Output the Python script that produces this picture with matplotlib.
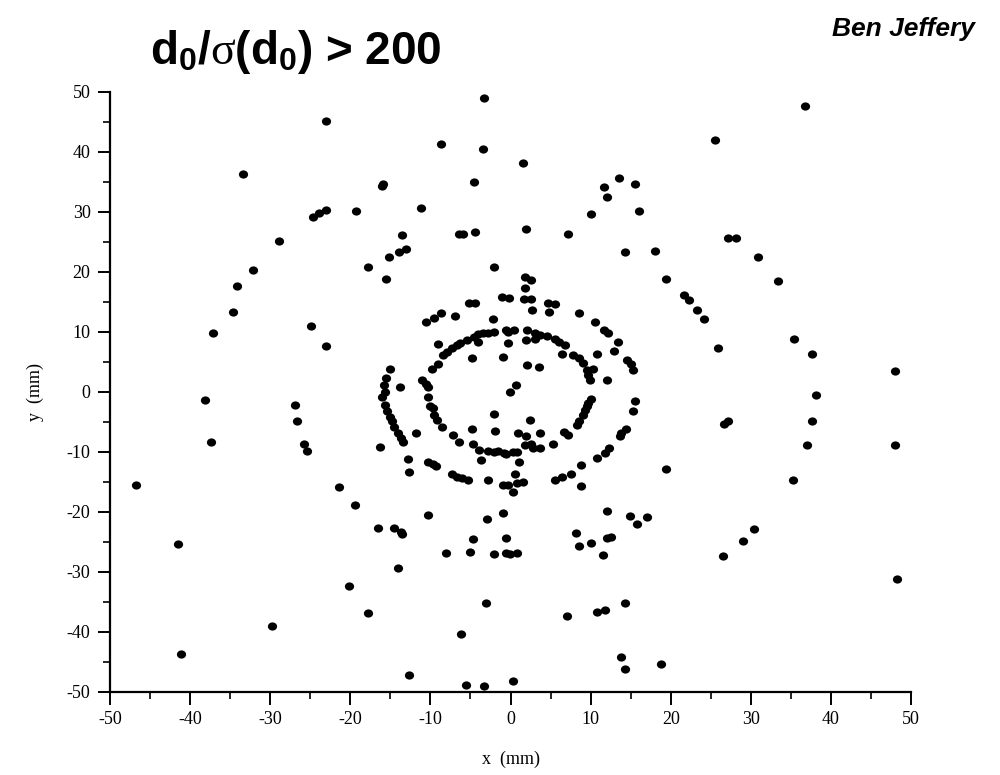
import matplotlib
matplotlib.use("Agg")
import matplotlib.pyplot as plt
from matplotlib.path import Path
from matplotlib.transforms import Affine2D
from matplotlib.ticker import MultipleLocator

x_mm = [
    -23.0, -33.4, -24.6, -23.9, -23.0, -19.3, -28.9, -32.2, -34.1, -17.8,
    -3.3, -8.7, -3.4, 1.6, -16.1, -15.9, -4.5, 13.5, 11.7, 15.5, 12.0, 16.1, 10.0,
    -11.2, -13.6, -6.4, -5.9, -4.4, 1.9, 7.2, -13.1, -13.9, -15.2, -15.5, -2.0,
    14.3, 1.8, 2.5, 1.8,
    36.8, 25.5, 27.1, 28.2, 18.1, 30.9, 19.4, 33.4,
    -34.7, -37.1, -24.9, -23.0, -38.1, -26.9, -26.7, -37.4, -25.8, -25.4, -46.8, -21.4,
    21.6, 22.3, 23.3, 24.1, 25.9, 35.4, 37.7, 48.0, 38.1, 37.6, 26.6, 27.2, 37.0,
    48.0, 19.4, 35.3,
    -19.4, -41.5, -20.1, -17.8, -29.8, -41.1,
    -10.3, -16.5, -14.6, -13.7, -13.5, -14.1, -8.0, -4.7, -5.1, -2.9, -0.9, -0.6,
    -2.1, -0.6, -0.1, 0.8, -3.1, -6.2, -12.7, -5.6, -3.3, 0.3, 8.8, 12.0, 14.9,
    15.8, 17.0, 8.2, 8.5, 10.0, 12.0, 12.5, 11.6, 7.0, 10.8, 11.8, 14.3, 13.8, 14.3,
    26.5, 29.0, 30.4, 48.3, 18.8,
    -1.1, -0.2, 1.7, 2.5, -5.2, -4.4, 4.7, 5.6, 2.7, 4.8, 8.6, -10.5, -9.6, -8.7,
    -6.9, -2.2, 10.5, 11.7, 12.2, 13.4, 12.9, 14.5, 15.0, 15.3, 15.5, 15.3, 14.4,
    13.8, 13.7, 12.3, 11.8, 10.8, 8.8, 7.6, 6.4, 5.6, -2.8, -0.9, -0.3, 0.8, 1.6,
    0.6, 0.3, -7.3, -6.7, -6.1, -5.3, -10.3, -9.7, -9.3, -12.7, -12.8, -16.3,
    -15.1, -15.6, -15.8, -15.7, -16.1, -15.7, -15.4, -15.1, -14.8, -14.5, -14.0,
    -13.7, -13.4, -13.8, -11.8,
    -11.0, -10.5, -10.3, -10.3, -10.1, -9.7, -9.6, -9.2, -8.6, -7.2, -6.4, -4.8,
    -4.7, -3.9, -2.8, -2.1, -1.5, -0.8, -0.5, 0.3, 0.8, -3.7, 1.1, 1.8, 2.6, 2.8,
    3.7, -1.9, 0.9, 1.9, 3.7, -2.0, 2.4, 5.3, 6.7, 7.2, 8.3, 8.6, 9.0, 9.3, 9.5,
    9.7, 10.1, 12.1, 9.9, 9.7, 9.5, 10.3, 9.0, 8.5, 7.8, 10.8, 6.4, 6.8, 6.1, 5.6,
    4.5, 3.7, 3.1, 3.1, 1.9, 2.0, -0.3, 0.4, -0.6, -0.3, -2.1, -2.8, -3.4, -4.0,
    -4.6, -5.4, -6.3, -6.7, -7.3, -7.9, -8.4, -4.0, -9.0, -9.0, -9.8, -4.8, -0.9,
    2.1, 3.5, 0.7, -0.1,
]
y_mm = [
    45.1, 36.3, 29.2, 29.8, 30.4, 30.2, 25.2, 20.4, 17.6, 20.8,
    49.0, 41.4, 40.5, 38.1, 34.4, 34.7, 35.0, 35.7, 34.1, 34.7, 32.5, 30.1, 29.6,
    30.6, 26.1, 26.4, 26.4, 26.7, 27.2, 26.4, 23.8, 23.3, 22.5, 18.8, 20.9,
    23.3, 19.1, 18.6, 17.3,
    47.6, 42.0, 25.7, 25.7, 23.5, 22.5, 18.8, 18.5,
    13.3, 9.8, 11.0, 7.7, -1.3, -2.1, -4.9, -8.3, -8.6, -9.9, -15.5, -15.9,
    16.2, 15.3, 13.6, 12.1, 7.4, 8.9, 6.3, 3.5, -0.5, -4.8, -5.3, -4.8, -8.9,
    -8.9, -12.9, -14.6,
    -18.9, -25.4, -32.3, -36.9, -39.0, -43.7,
    -20.5, -22.6, -22.7, -23.3, -23.7, -29.4, -26.8, -24.5, -26.6, -21.2, -20.1, -24.4,
    -27.0, -26.9, -27.0, -26.9, -35.2, -40.3, -47.1, -48.8, -49.0, -48.2, -15.7, -19.8, -20.6,
    -22.0, -20.9, -23.5, -25.6, -25.2, -24.3, -24.1, -27.2, -37.4, -36.6, -36.3, -35.1, -44.2, -46.2,
    -27.4, -24.8, -22.8, -31.1, -45.3,
    15.8, 15.6, 15.5, 15.5, 14.8, 14.9, 14.9, 14.6, 13.7, 13.4, 13.2, 11.6, 12.3, 13.1,
    12.7, 12.2, 11.6, 10.3, 9.9, 8.3, 6.9, 5.4, 4.7, 3.6, -1.5, -3.1, -6.1,
    -6.9, -7.4, -9.4, -10.2, -11.0, -12.1, -13.6, -14.2, -14.6, -14.7, -15.5, -15.5, -15.2, -15.0,
    -13.7, -16.6, -13.7, -14.1, -14.4, -14.7, -11.6, -12.0, -12.4, -13.3, -11.2, -9.1,
    3.8, 2.3, 1.2, 0.0, -0.9, -2.1, -3.1, -4.1, -4.9, -5.8, -6.9,
    -7.7, -8.4, 0.9, -6.8,
    2.0, 1.3, 0.9, -0.9, -2.3, -2.7, -3.8, -4.6, -5.8, -7.2, -8.3, -6.1,
    -8.7, -9.6, -9.8, -10.0, -9.8, -10.1, -10.3, -10.0, -10.0, -11.3, -11.6, -8.8, -8.6, -9.4,
    -9.4, -6.5, -6.9, -7.3, -6.9, -3.6, -4.6, -8.6, -6.6, -7.2, -5.5, -4.8, -3.8, -3.0, -2.3,
    -1.9, -1.1, 2.0, 2.0, 2.8, 3.6, 3.8, 4.8, 5.6, 6.2, 6.3, 6.3, 7.8, 8.4, 8.9,
    9.3, 9.5, 9.9, 8.9, 8.7, 10.3, 10.0, 10.3, 10.4, 8.1, 10.0, 9.9, 9.8, 9.6,
    9.2, 8.7, 8.2, 7.8, 7.3, 6.7, 6.2, 8.4, 8.0, 4.7, 3.8, 5.6, 5.9,
    4.5, 4.2, 1.2, 0.0,
]
x_ticks = [-50, -40, -30, -20, -10, 0, 10, 20, 30, 40, 50]
y_ticks = [-50, -40, -30, -20, -10, 0, 10, 20, 30, 40, 50]

plt.rcParams['axes.unicode_minus'] = False
plt.rcParams['mathtext.fontset'] = 'custom'
plt.rcParams['mathtext.rm'] = 'Liberation Sans:bold'
plt.rcParams['mathtext.it'] = 'Liberation Serif'
plt.rcParams['mathtext.bf'] = 'Liberation Sans:bold'

fig = plt.figure(figsize=(10, 7.75), dpi=100)
ax = fig.add_axes([0.110, 0.1071, 0.801, 0.7742])

dot = Path.unit_circle().transformed(Affine2D().scale(1.12, 1.0))
ax.scatter(x_mm, y_mm, s=44, marker=dot, color='black', linewidths=0)

ax.set_xlim(-50, 50)
ax.set_ylim(-50, 50)
ax.set_xticks(x_ticks)
ax.set_yticks(y_ticks)
ax.xaxis.set_minor_locator(MultipleLocator(5))
ax.yaxis.set_minor_locator(MultipleLocator(5))
for s in ['top', 'right']:
    ax.spines[s].set_visible(False)
for s in ['left', 'bottom']:
    ax.spines[s].set_linewidth(1.6)
ax.tick_params(which='major', direction='out', length=9, width=1.4, pad=5)
ax.tick_params(which='minor', direction='out', length=5, width=1.2)
for lab in ax.get_xticklabels() + ax.get_yticklabels():
    lab.set_fontfamily('Liberation Serif')
    lab.set_fontsize(13)
ax.set_xlabel('x  (mm)', fontfamily='Liberation Serif', fontsize=13, labelpad=16)
ax.set_ylabel('y  (mm)', fontfamily='Liberation Serif', fontsize=13, labelpad=16)

fig.text(0.296, 0.933, r'd$_{\mathrm{0}}$/$\sigma$(d$_{\mathrm{0}}$) > 200',
         ha='center', va='center', fontfamily='Liberation Sans',
         fontweight='bold', fontsize=33)
fig.text(0.975, 0.963, 'Ben Jeffery', ha='right', va='center',
         fontfamily='Liberation Sans', fontweight='bold', fontstyle='italic',
         fontsize=19)

fig.savefig('out.png', dpi=100)
